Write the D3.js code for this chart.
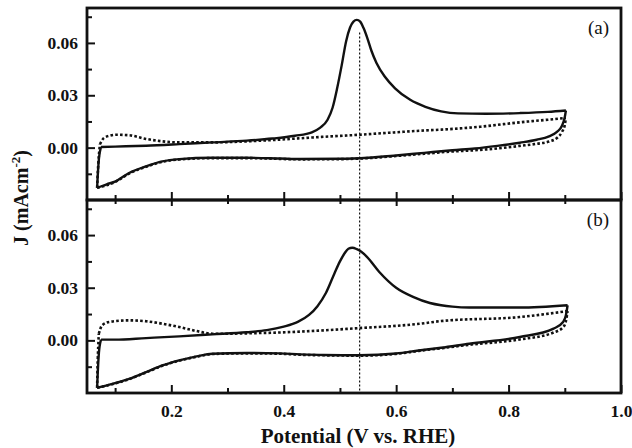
<!doctype html>
<html>
  <head>
    <script src="https://cdnjs.cloudflare.com/ajax/libs/d3/7.8.5/d3.min.js"></script>
    <style>
      body { margin: 0; background: #fff; }
      svg text { font-family: "Liberation Serif", "Times New Roman", serif; }
    </style>
  </head>
  <body>
    <svg id="chart" width="632" height="448"></svg>
    <script>
        // potential (V vs. RHE), current density J (mA cm^-2)
        var xMajor = [0.2, 0.4, 0.6, 0.8, 1.0];
        var xMinor = [0.1, 0.3, 0.5, 0.7, 0.9];
        var yMajor = [0.00, 0.03, 0.06];
        var yMinor = [-0.015, 0.015, 0.045, 0.075];
        var peakLine = 0.535;
        var peakLineTopA = 0.066;

        // panel (a): forward scan, then reverse scan
        var aSolidFwd = [
            [0.068,-0.023],[0.071,-0.004],[0.075,0.0004],[0.10,0.0006],[0.155,0.0011],[0.214,0.002],
            [0.273,0.003],[0.334,0.004],[0.38,0.0052],[0.42,0.0068],[0.45,0.0088],[0.465,0.0115],
            [0.478,0.016],[0.487,0.023],[0.495,0.034],[0.503,0.047],[0.511,0.061],[0.518,0.0688],
            [0.524,0.0722],[0.530,0.0732],[0.536,0.0722],[0.542,0.0685],[0.549,0.0625],[0.556,0.0555],
            [0.565,0.0485],[0.58,0.0406],[0.598,0.034],[0.625,0.0274],[0.652,0.0234],[0.68,0.0208],
            [0.71,0.0196],[0.76,0.0194],[0.82,0.0198],[0.87,0.0205],[0.902,0.0213]
        ];
        var aSolidRev = [
            [0.902,0.0213],[0.900,0.0175],[0.895,0.0125],[0.886,0.009],[0.872,0.0065],[0.85,0.0045],
            [0.82,0.0028],[0.78,0.001],[0.74,-0.0005],[0.70,-0.0015],[0.65,-0.003],[0.60,-0.0045],
            [0.55,-0.0058],[0.50,-0.0064],[0.43,-0.0065],[0.393,-0.0062],[0.334,-0.0058],
            [0.273,-0.0058],[0.214,-0.0066],[0.184,-0.0079],[0.155,-0.0107],[0.125,-0.0145],
            [0.101,-0.0193],[0.085,-0.021],[0.068,-0.023]
        ];
        var aDottedFwd = [
            [0.068,-0.023],[0.070,-0.008],[0.073,0.002],[0.08,0.0055],[0.09,0.0068],[0.102,0.0074],
            [0.125,0.0071],[0.155,0.005],[0.184,0.0036],[0.214,0.003],[0.273,0.003],[0.334,0.0036],
            [0.393,0.0046],[0.45,0.0058],[0.535,0.0074],[0.60,0.0088],[0.643,0.0097],[0.68,0.0103],
            [0.75,0.012],[0.82,0.0145],[0.87,0.016],[0.902,0.017]
        ];
        var aDottedRev = [
            [0.902,0.017],[0.900,0.013],[0.895,0.009],[0.886,0.0055],[0.872,0.0035],[0.85,0.0022],
            [0.82,0.001],[0.78,-0.0005],[0.74,-0.0015],[0.70,-0.0022],[0.65,-0.0035],[0.60,-0.0048],
            [0.55,-0.006],[0.50,-0.0066],[0.43,-0.0067],[0.334,-0.006],[0.273,-0.006],[0.214,-0.0068],
            [0.184,-0.0081],[0.155,-0.011],[0.125,-0.0148],[0.101,-0.0195],[0.068,-0.023]
        ];

        // panel (b): forward scan, then reverse scan
        var bSolidFwd = [
            [0.068,-0.027],[0.071,-0.004],[0.075,0.0004],[0.10,0.0004],[0.155,0.0013],[0.214,0.0023],
            [0.273,0.0034],[0.334,0.0046],[0.37,0.0058],[0.40,0.0078],[0.425,0.0105],[0.445,0.0145],
            [0.46,0.0195],[0.475,0.027],[0.49,0.038],[0.50,0.045],[0.508,0.0495],[0.515,0.0522],
            [0.522,0.0528],[0.53,0.052],[0.538,0.0505],[0.548,0.0476],[0.57,0.039],[0.60,0.030],
            [0.63,0.0248],[0.66,0.0213],[0.68,0.020],[0.70,0.0192],[0.73,0.0187],[0.82,0.0187],
            [0.905,0.020]
        ];
        var bSolidRev = [
            [0.905,0.020],[0.902,0.0143],[0.897,0.0105],[0.88,0.0067],[0.82,0.0019],[0.73,-0.0019],
            [0.68,-0.0042],[0.64,-0.0058],[0.60,-0.0075],[0.535,-0.0085],[0.47,-0.0083],
            [0.429,-0.008],[0.393,-0.0074],[0.334,-0.0072],[0.273,-0.0076],[0.245,-0.0091],
            [0.214,-0.0114],[0.184,-0.0143],[0.155,-0.0181],[0.125,-0.0219],[0.095,-0.0248],
            [0.068,-0.027]
        ];
        var bDottedFwd = [
            [0.068,-0.027],[0.069,-0.01],[0.071,0.0038],[0.077,0.0086],[0.09,0.0105],[0.125,0.0114],
            [0.155,0.0109],[0.184,0.0095],[0.214,0.0076],[0.245,0.0053],[0.273,0.0038],[0.30,0.0038],
            [0.334,0.004],[0.393,0.0045],[0.43,0.005],[0.535,0.007],[0.643,0.0095],[0.68,0.011],
            [0.82,0.0133],[0.905,0.0167]
        ];
        var bDottedRev = [
            [0.905,0.0167],[0.902,0.011],[0.897,0.0075],[0.88,0.0045],[0.82,0.0005],[0.73,-0.0025],
            [0.68,-0.0045],[0.64,-0.006],[0.60,-0.0077],[0.535,-0.0087],[0.47,-0.0085],
            [0.429,-0.0082],[0.393,-0.0076],[0.334,-0.0074],[0.273,-0.0078],[0.245,-0.0093],
            [0.214,-0.0116],[0.184,-0.0145],[0.155,-0.0183],[0.125,-0.0221],[0.095,-0.025],
            [0.068,-0.027]
        ];

        var svg = d3.select("#chart");
        var left = 87, right = 621;
        var aTop = 8, mid = 200, bBottom = 393;

        var x = d3.scaleLinear().domain([0.05, 1.0]).range([left, right]);
        var yA = d3.scaleLinear().domain([-0.03, 0.08]).range([mid, aTop]);
        var yB = d3.scaleLinear().domain([-0.03, 0.08]).range([bBottom, mid]);

        function drawPanel(y, solid, dotted, label, top, bottom, showX) {
            var g = svg.append("g");
            var lineX = d3.line()
                .x(d => x(d[0]))
                .y(d => y(d[1]))
                .curve(d3.curveMonotoneX);

            // the first points of each forward branch are the near-vertical start
            function branchPath(fwd, rev) {
                var start = fwd.slice(0, 3);
                var rest = fwd.slice(2);
                return d3.line().x(d => x(d[0])).y(d => y(d[1])).curve(d3.curveBasis)(start)
                    + lineX(rest) + lineX(rev.slice().reverse());
            }

            g.append("path")
                .attr("d", branchPath(dotted[0], dotted[1]))
                .attr("fill", "none")
                .attr("stroke", "#111")
                .attr("stroke-width", 2.6)
                .attr("stroke-dasharray", "2.6,2.2");

            g.append("path")
                .attr("d", branchPath(solid[0], solid[1]))
                .attr("fill", "none")
                .attr("stroke", "#111")
                .attr("stroke-width", 2.4)
                .attr("stroke-linejoin", "round");

            // left ticks
            g.append("g").attr("transform", "translate(" + left + ",0)")
                .call(d3.axisLeft(y).tickValues(yMajor).tickSize(-8).tickPadding(9)
                    .tickFormat(d3.format(".2f")));
            g.append("g").attr("transform", "translate(" + left + ",0)")
                .call(d3.axisLeft(y).tickValues(yMinor).tickSize(-5).tickFormat(""));

            // bottom ticks
            g.append("g").attr("transform", "translate(0," + bottom + ")")
                .call(d3.axisBottom(x).tickValues(xMajor).tickSize(-8).tickPadding(12)
                    .tickFormat(showX ? d3.format(".1f") : ""));
            g.append("g").attr("transform", "translate(0," + bottom + ")")
                .call(d3.axisBottom(x).tickValues(xMinor).tickSize(-5).tickFormat(""));

            // top ticks (only for lower panel, inward)
            if (showX) {
                g.append("g").attr("transform", "translate(0," + top + ")")
                    .call(d3.axisTop(x).tickValues(xMajor.slice(0, 4)).tickSize(-6).tickFormat(""));
                g.append("g").attr("transform", "translate(0," + top + ")")
                    .call(d3.axisTop(x).tickValues(xMinor).tickSize(-4).tickFormat(""));
            }

            g.selectAll(".domain").remove();
            g.selectAll(".tick line").attr("stroke", "#111").attr("stroke-width", 2);
            g.selectAll(".tick text")
                .attr("fill", "#111")
                .style("font-size", "17.5px")
                .style("font-weight", "bold");

            g.append("rect")
                .attr("x", left).attr("y", top)
                .attr("width", right - left).attr("height", bottom - top)
                .attr("fill", "none")
                .attr("stroke", "#111")
                .attr("stroke-width", 2.8);

            g.append("text")
                .attr("x", right - 12).attr("y", top + 26)
                .attr("text-anchor", "end")
                .style("font-size", "19px")
                .attr("fill", "#111")
                .text(label);
        }

        drawPanel(yA, [aSolidFwd, aSolidRev], [aDottedFwd, aDottedRev], "(a)", aTop, mid, false);
        drawPanel(yB, [bSolidFwd, bSolidRev], [bDottedFwd, bDottedRev], "(b)", mid, bBottom, true);

        // vertical dotted marker through both panels
        svg.append("line")
            .attr("x1", x(peakLine)).attr("x2", x(peakLine))
            .attr("y1", yA(peakLineTopA)).attr("y2", yB(-0.03))
            .attr("stroke", "#111")
            .attr("stroke-width", 1.2)
            .attr("stroke-dasharray", "2,2");

        // axis titles
        svg.append("text")
            .attr("x", (left + right) / 2 + 4).attr("y", 443)
            .attr("text-anchor", "middle")
            .style("font-size", "21px")
            .style("font-weight", "bold")
            .attr("fill", "#111")
            .text("Potential (V vs. RHE)");

        var yt = svg.append("text")
            .attr("transform", "translate(28,198) rotate(-90)")
            .attr("text-anchor", "middle")
            .style("font-size", "20px")
            .style("font-weight", "bold")
            .attr("fill", "#111");
        yt.append("tspan").text("J (mAcm");
        yt.append("tspan").attr("dy", -8).style("font-size", "13px").text("-2");
        yt.append("tspan").attr("dy", 8).text(")");
    </script>
  </body>
</html>
